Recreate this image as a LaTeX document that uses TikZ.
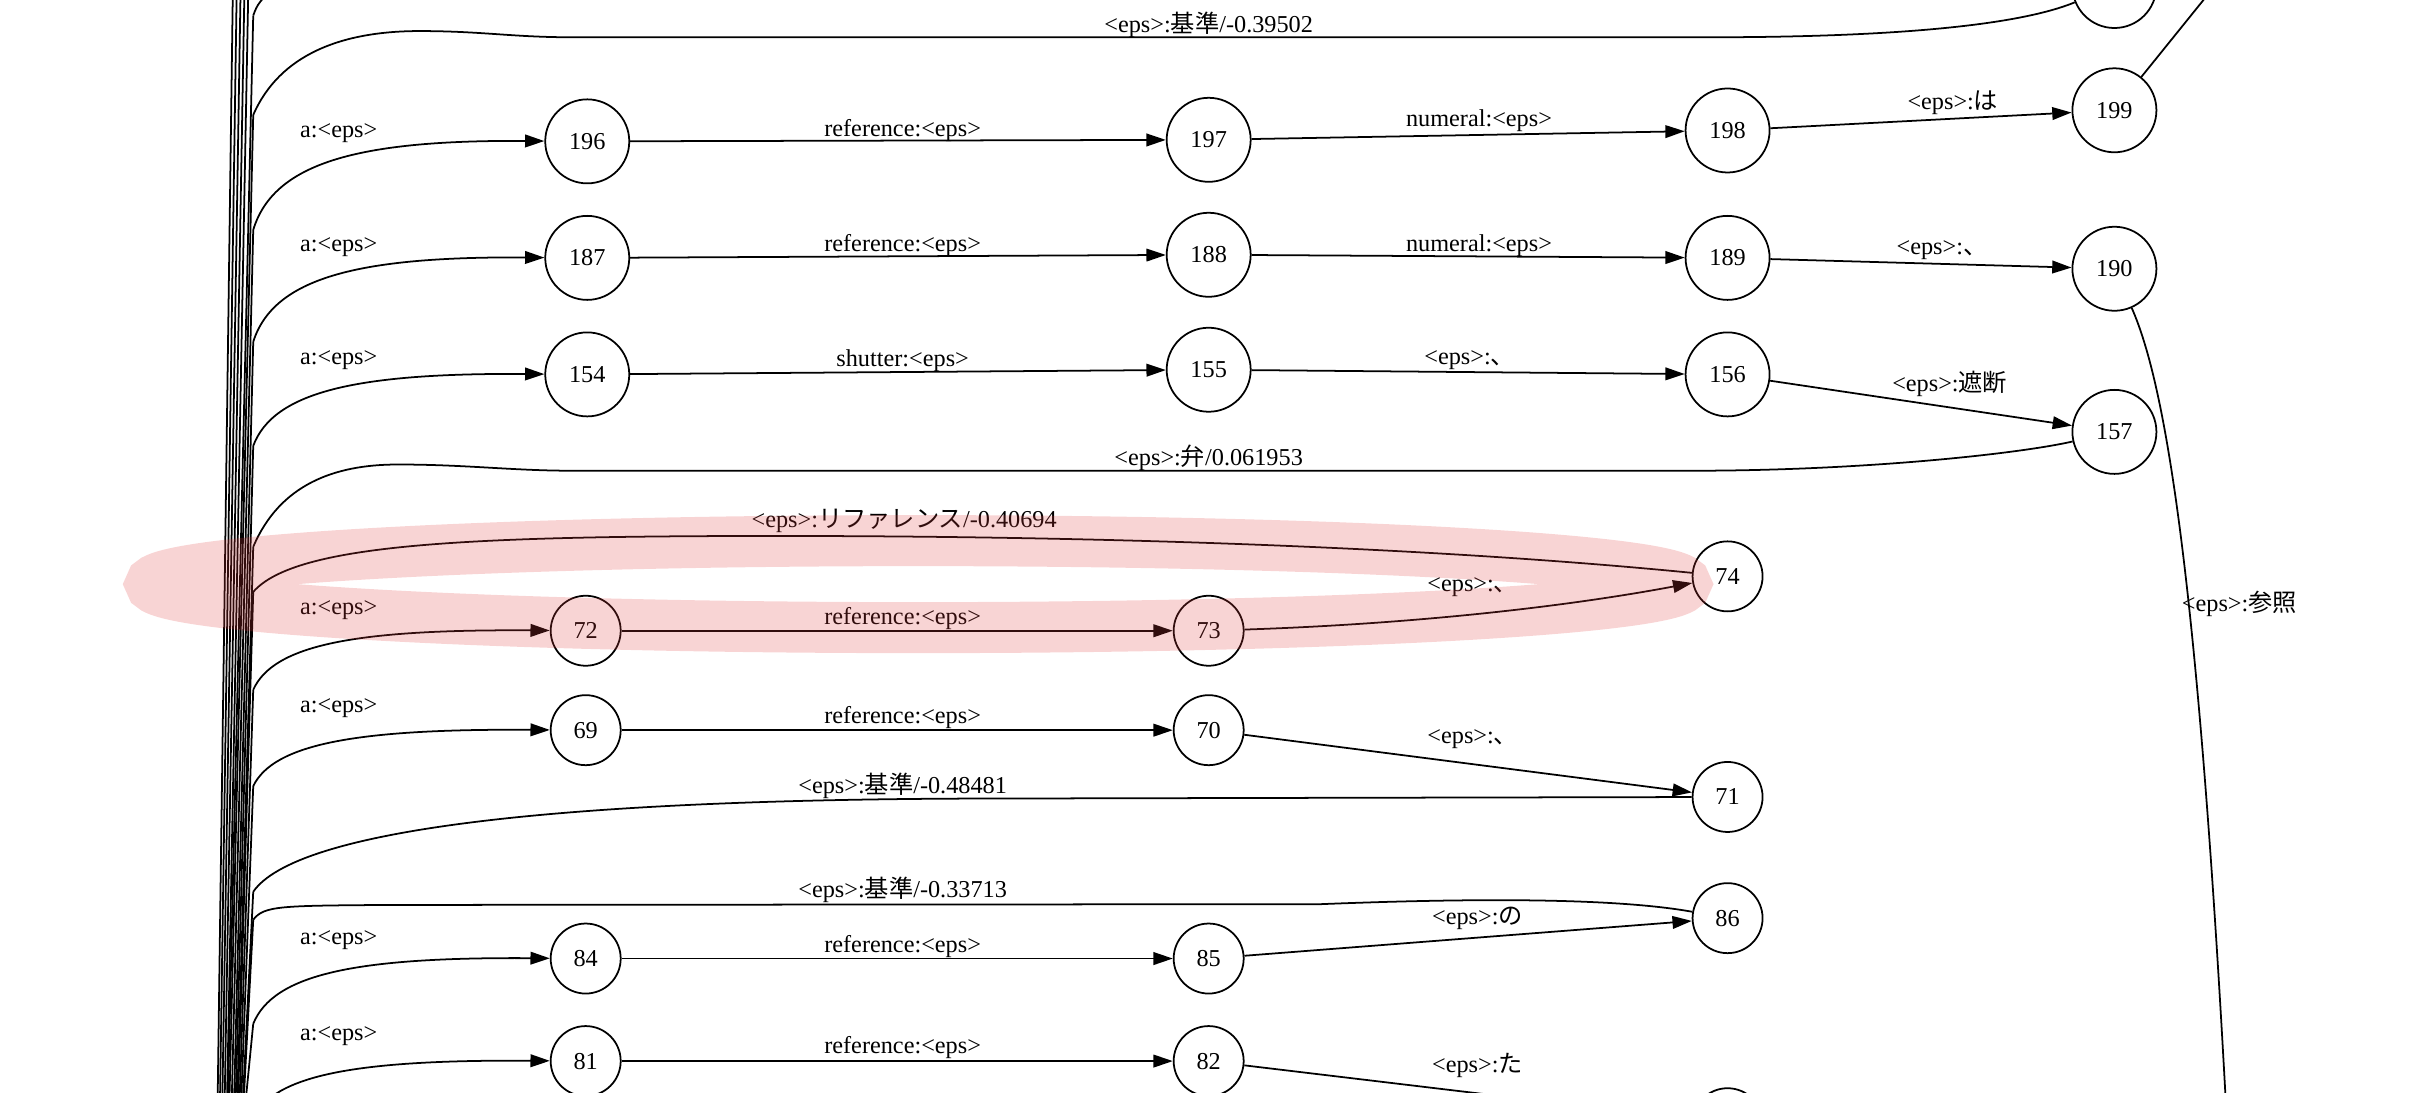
\documentclass[tikz,border=0pt]{standalone}
\usepackage{fontspec}
\setmainfont{Liberation Serif}
\newfontfamily\jpfont{Noto Sans CJK JP}
\usetikzlibrary{arrows.meta}

\definecolor{hlred}{RGB}{225,60,60}

\newcommand{\epsword}{<eps>}
\newcommand{\jword}[1]{{\jpfont #1}}

\begin{document}
\begin{tikzpicture}[
    x=0.015536cm, y=-0.015536cm,
    % Define styles for consistent formatting
    state/.style={draw, circle, minimum size=0.84cm, inner sep=0pt, line width=0.5pt, font=\fontsize{6.9}{8}\selectfont},
    smallstate/.style={state, minimum size=0.70cm},
    trans/.style={-{Triangle[length=5.5pt, width=3.6pt]}, line width=0.5pt},
    backtrans/.style={line width=0.5pt},
    translabel/.style={font=\fontsize{6.9}{8}\selectfont, inner sep=0pt},
    lasso/.style={draw=hlred, line width=0.51cm, opacity=0.22}
]

% Define columns for better maintainability
\newcommand{\colone}{378}
\newcommand{\coltwo}{778}
\newcommand{\colthree}{1112}
\newcommand{\colfour}{1361}

\useasboundingbox (0,0) rectangle (1568,703);
\clip (0,0) rectangle (1568,703);

% States
\node [state] (ntop) at (\colfour,-9) {};
\node [state] (n196) at (\colone,91) {196};
\node [state] (n197) at (\coltwo,90) {197};
\node [state] (n198) at (\colthree,84) {198};
\node [state] (n199) at (\colfour,71) {199};
\node [state] (n187) at (\colone,166) {187};
\node [state] (n188) at (\coltwo,164) {188};
\node [state] (n189) at (\colthree,166) {189};
\node [state] (n190) at (\colfour,173) {190};
\node [state] (n154) at (\colone,241) {154};
\node [state] (n155) at (\coltwo,238) {155};
\node [state] (n156) at (\colthree,241) {156};
\node [state] (n157) at (\colfour,278) {157};
\node [smallstate] (n74) at (\colthree,371) {74};
\node [smallstate] (n72) at (377,406) {72};
\node [smallstate] (n73) at (\coltwo,406) {73};
\node [smallstate] (n69) at (377,470) {69};
\node [smallstate] (n70) at (\coltwo,470) {70};
\node [smallstate] (n71) at (\colthree,513) {71};
\node [smallstate] (n86) at (\colthree,591) {86};
\node [smallstate] (n84) at (377,617) {84};
\node [smallstate] (n85) at (\coltwo,617) {85};
\node [smallstate] (n81) at (377,683) {81};
\node [smallstate] (n82) at (\coltwo,683) {82};
\node [smallstate] (nbot) at (\colthree,723) {};

% Bundle of arcs coming up the left side
\foreach \xb/\xt in {140/150, 141.5/152.5, 143/155, 144.5/157.5, 146/160} {
    \draw [backtrans] (\xb,715) -- (\xt,-15);
}
\foreach \n/\y/\x in {A/10/146.5, B/74/147.5, 196/148/149, 187/220/150.5, 154/287/151.5,
    F/352/152.5, G/381/153, 72/444/154, 69/506/155, J/574/156, K/592/156.5,
    84/659/157.5, 81/720/158} {
    \coordinate (b\n) at (163,\y);
    \coordinate (s\n) at (\x,715);
    \draw [backtrans] (s\n) -- (b\n);
}

% a:<eps> arcs from the bundle
\foreach \n/\dy in {196/43, 187/41, 154/35, 72/29, 69/27, 84/32, 81/28} {
    \draw [trans] (b\n) .. controls +(13,-\dy) and +(-148,-1) .. (n\n);
}
\foreach \n/\y in {196/86, 187/159, 154/232, 72/393, 69/456, 84/605, 81/667} {
    \node [translabel] (la\n) at (218,\y) {a:\epsword};
}

% Long arcs back to the bundle
\coordinate (cA) at (182,-14);
\draw [backtrans] (bA) .. controls (166,2) .. (cA);
\draw [backtrans] (bB) .. controls (180,35) and (220,20) .. (270,20)
    .. controls (310,20) and (330,24) .. (368,24) -- (1100,24)
    .. controls (1250,24) and (1310,12) .. (ntop);
\draw [backtrans] (bF) .. controls (180,312) and (215,299) .. (256,299)
    .. controls (300,299) and (330,303) .. (368,303) -- (1090,303)
    .. controls (1200,303) and (1300,292) .. (n157);
\draw [backtrans] (bG) .. controls (190,350) and (300,345) .. (500,345)
    .. controls (750,345) and (950,355) .. (n74);
\draw [backtrans] (bJ) .. controls (190,535) and (350,514) .. (644,514) -- (n71);
\draw [backtrans] (bK) .. controls (170,583) and (180,583) .. (250,582.5) -- (850,582)
    .. controls (950,578) and (1040,578) .. (n86);

\node [translabel] (lB) at (778,16) {\epsword:\jword{基準}/-0.39502};
\node [translabel] (lF) at (778,295) {\epsword:\jword{弁}/0.061953};
\node [translabel] (lG) at (582,335) {\epsword:\jword{リファレンス}/-0.40694};
\node [translabel] (lJ) at (581,506) {\epsword:\jword{基準}/-0.48481};
\node [translabel] (lK) at (581,573) {\epsword:\jword{基準}/-0.33713};

% Arcs between states
\draw [trans] (n196) -- (n197);
\draw [trans] (n197) -- (n198);
\draw [trans] (n198) -- (n199);
\draw [trans] (n187) -- (n188);
\draw [trans] (n188) -- (n189);
\draw [trans] (n189) -- (n190);
\draw [trans] (n154) -- (n155);
\draw [trans] (n155) -- (n156);
\draw [trans] (n156) -- (n157);
\draw [trans] (n72) -- (n73);
\draw [trans] (n73) .. controls (900,402) and (1000,392) .. (n74);
\draw [trans] (n69) -- (n70);
\draw [trans] (n70) -- (n71);
\draw [trans] (n84) -- (n85);
\draw [trans] (n85) -- (n86);
\draw [trans] (n81) -- (n82);
\draw [trans] (n82) -- (nbot);

% Arcs leaving the picture
\coordinate (e199) at (1428,-12);
\coordinate (e190) at (1433,715);
\draw [backtrans] (n199) -- (e199);
\draw [backtrans] (n190) .. controls (1395,250) and (1415,380) .. (e190);

% Arc labels
\foreach \n/\y in {196/84, 187/158, 72/398, 69/462, 84/609, 81/674} {
    \node [translabel] (lr\n) at (581,\y) {reference:\epsword};
}
\node [translabel] (l155) at (581,232) {shutter:\epsword};
\node [translabel] (l198) at (952,78) {numeral:\epsword};
\node [translabel] (l189) at (952,158) {numeral:\epsword};
\node [translabel] (l199) at (1257,66) {\epsword:\jword{は}};
\node [translabel] (l190) at (1250,161) {\epsword:\jword{、}};
\node [translabel] (l156) at (946,232) {\epsword:\jword{、}};
\node [translabel] (l157) at (1255,247) {\epsword:\jword{遮断}};
\node [translabel] (l74) at (948,378) {\epsword:\jword{、}};
\node [translabel] (l71) at (948,476) {\epsword:\jword{、}};
\node [translabel] (l86) at (951,591) {\epsword:\jword{の}};
\node [translabel] (lbot) at (951,686) {\epsword:\jword{た}};
\node [translabel, anchor=west] (le190) at (1404,389) {\epsword:\jword{参照}};

% Highlight round the 72-73-74 path
\draw [lasso] (591,376) ellipse [x radius=494, y radius=28];

\end{tikzpicture}
\end{document}
